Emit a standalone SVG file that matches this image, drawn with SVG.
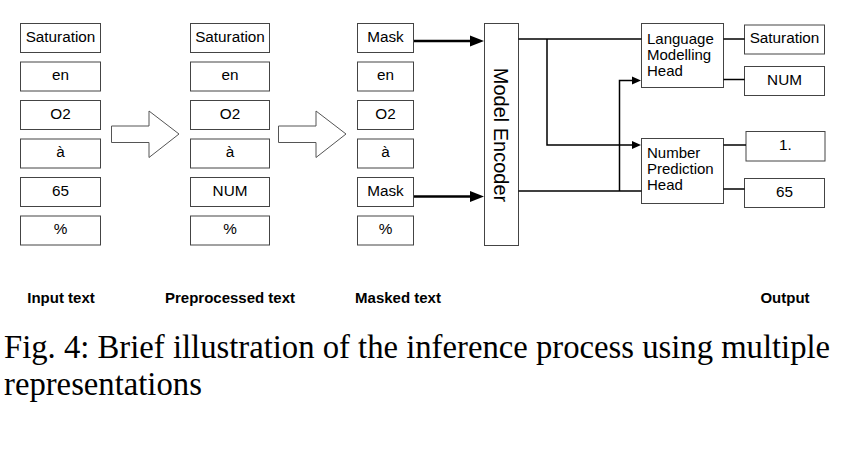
<svg xmlns="http://www.w3.org/2000/svg" width="858" height="450" viewBox="0 0 858 450">
<style>
.box{fill:#fff;stroke:#444;stroke-width:1}
.t{font-family:"Liberation Sans",Arial,sans-serif;font-size:15.3px;fill:#000;text-anchor:middle}
.tl{font-family:"Liberation Sans",Arial,sans-serif;font-size:15px;fill:#000}
.lab{font-family:"Liberation Sans",Arial,sans-serif;font-size:15px;font-weight:bold;fill:#000;text-anchor:middle}
.cap{font-family:"Liberation Serif","Times New Roman",serif;font-size:32.7px;fill:#000}
.big{fill:#fff;stroke:#555;stroke-width:1}
.ln{fill:none;stroke:#000;stroke-width:1.5}
.thick{fill:none;stroke:#000;stroke-width:2.7}
</style>
<rect width="858" height="450" fill="#fff"/>

<g id="input-text">
<rect class="box" x="20.5" y="23.5" width="80" height="29"/><text class="t" x="60.5" y="41.5">Saturation</text>
<rect class="box" x="20.5" y="62" width="80" height="29"/><text class="t" x="60.5" y="80">en</text>
<rect class="box" x="20.5" y="100.5" width="80" height="29"/><text class="t" x="60.5" y="118.5">O2</text>
<rect class="box" x="20.5" y="139" width="80" height="29"/><text class="t" x="60.5" y="157">à</text>
<rect class="box" x="20.5" y="177.5" width="80" height="29"/><text class="t" x="60.5" y="195.5">65</text>
<rect class="box" x="20.5" y="216" width="80" height="29"/><text class="t" x="60.5" y="234">%</text>
</g>

<g id="preprocessed-text">
<rect class="box" x="190.5" y="23.5" width="79" height="29"/><text class="t" x="230" y="41.5">Saturation</text>
<rect class="box" x="190.5" y="62" width="79" height="29"/><text class="t" x="230" y="80">en</text>
<rect class="box" x="190.5" y="100.5" width="79" height="29"/><text class="t" x="230" y="118.5">O2</text>
<rect class="box" x="190.5" y="139" width="79" height="29"/><text class="t" x="230" y="157">à</text>
<rect class="box" x="190.5" y="177.5" width="79" height="29"/><text class="t" x="230" y="195.5">NUM</text>
<rect class="box" x="190.5" y="216" width="79" height="29"/><text class="t" x="230" y="234">%</text>
</g>

<g id="masked-text">
<rect class="box" x="357.5" y="23.5" width="56" height="29"/><text class="t" x="385.5" y="41.5">Mask</text>
<rect class="box" x="357.5" y="62" width="56" height="29"/><text class="t" x="385.5" y="80">en</text>
<rect class="box" x="357.5" y="100.5" width="56" height="29"/><text class="t" x="385.5" y="118.5">O2</text>
<rect class="box" x="357.5" y="139" width="56" height="29"/><text class="t" x="385.5" y="157">à</text>
<rect class="box" x="357.5" y="177.5" width="56" height="29"/><text class="t" x="385.5" y="195.5">Mask</text>
<rect class="box" x="357.5" y="216" width="56" height="29"/><text class="t" x="385.5" y="234">%</text>
</g>

<g id="big-arrow-1">
<polygon class="big" points="111.5,126 149,126 149,111 179,134 149,157.5 149,142.5 111.5,142.5"/>
</g>
<g id="big-arrow-2">
<polygon class="big" points="278.5,126 316,126 316,111 346,134 316,157.5 316,142.5 278.5,142.5"/>
</g>

<g id="model-encoder">
<rect class="box" x="484.5" y="23.5" width="34" height="222"/>
<text transform="translate(501,135) rotate(90)" x="0" y="7" font-family="Liberation Sans, Arial, sans-serif" font-size="20" text-anchor="middle">Model Encoder</text>
</g>

<g id="lm-head">
<rect class="box" x="641.5" y="23.5" width="82" height="64"/>
<text class="tl" x="647" y="43.5">Language</text>
<text class="tl" x="647" y="59.5">Modelling</text>
<text class="tl" x="647" y="75.5">Head</text>
</g>
<g id="np-head">
<rect class="box" x="641.5" y="138.5" width="82" height="65"/>
<text class="tl" x="647" y="157.5">Number</text>
<text class="tl" x="647" y="173.5">Prediction</text>
<text class="tl" x="647" y="189.5">Head</text>
</g>

<g id="out-saturation"><rect class="box" x="744.5" y="25" width="80" height="29"/><text class="t" x="784.5" y="43">Saturation</text></g>
<g id="out-num"><rect class="box" x="744.5" y="66.5" width="80" height="29"/><text class="t" x="784.5" y="84.5">NUM</text></g>
<g id="out-1"><rect class="box" x="746" y="131.5" width="79" height="29.5"/><text class="t" x="785.5" y="149.5">1.</text></g>
<g id="out-65"><rect class="box" x="744.5" y="178.5" width="80" height="29"/><text class="t" x="784.5" y="196.5">65</text></g>

<g id="connectors">
<line class="thick" x1="414" y1="41" x2="472" y2="41"/>
<polygon points="470,35.5 484,41 470,46.5" fill="#000"/>
<line class="thick" x1="414" y1="196.5" x2="472" y2="196.5"/>
<polygon points="470,191 484,196.5 470,202" fill="#000"/>

<polyline class="ln" points="518.5,39 641.5,39"/>
<polyline class="ln" points="547,39 547,145 633,145"/>
<polygon points="632,141 641,145 632,149" fill="#000"/>
<polyline class="ln" points="518.5,191 641.5,191"/>
<polyline class="ln" points="619.5,191 619.5,80.5 633,80.5"/>
<polygon points="632,76.5 641,80.5 632,84.5" fill="#000"/>

<line class="ln" x1="723.5" y1="39" x2="744.5" y2="39"/>
<line class="ln" x1="723.5" y1="79.5" x2="744.5" y2="79.5"/>
<line class="ln" x1="723.5" y1="145" x2="746" y2="145"/>
<line class="ln" x1="723.5" y1="189" x2="744.5" y2="189"/>
</g>

<g id="labels">
<text class="lab" x="61" y="302.5">Input text</text>
<text class="lab" x="230" y="302.5">Preprocessed text</text>
<text class="lab" x="398" y="302.5">Masked text</text>
<text class="lab" x="785" y="302.5">Output</text>
</g>

<g id="caption">
<text class="cap" x="4" y="358">Fig. 4: Brief illustration of the inference process using multiple</text>
<text class="cap" x="4" y="395">representations</text>
</g>
</svg>
